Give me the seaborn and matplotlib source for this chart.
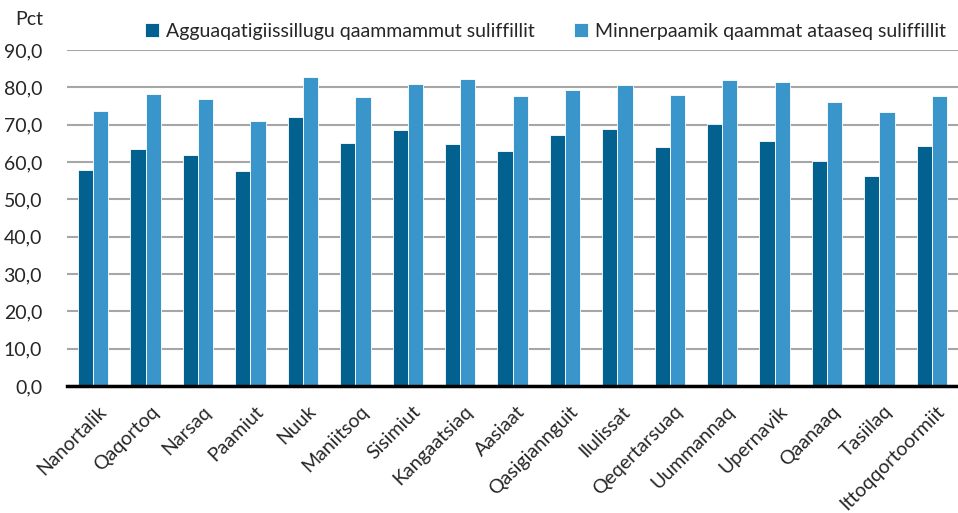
"""
Grouped bar chart: share of employees per town, two series.
"""

import numpy as np
import pandas as pd
import matplotlib
matplotlib.use('Agg')
import matplotlib.pyplot as plt
import seaborn as sns
from matplotlib.ticker import FuncFormatter, MultipleLocator
from matplotlib.transforms import ScaledTranslation

towns = [
    'Nanortalik', 'Qaqortoq', 'Narsaq', 'Paamiut', 'Nuuk', 'Maniitsoq',
    'Sisimiut', 'Kangaatsiaq', 'Aasiaat', 'Qasigiannguit', 'Ilulissat',
    'Qeqertarsuaq', 'Uummannaq', 'Upernavik', 'Qaanaaq', 'Tasiilaq',
    'Ittoqqortoormiit',
]
series_names = [
    'Agguaqatigiissillugu qaammammut suliffillit',
    'Minnerpaamik qaammat ataaseq suliffillit',
]
avg_monthly = [57.8, 63.4, 61.9, 57.6, 72.0, 65.1, 68.6, 64.7, 63.0,
               67.2, 68.9, 63.9, 70.2, 65.5, 60.3, 56.3, 64.2]
at_least_one = [73.6, 78.3, 76.8, 70.9, 82.8, 77.4, 80.9, 82.2, 77.6,
                79.3, 80.7, 78.0, 81.9, 81.4, 76.0, 73.4, 77.6]
colors = ['#02618F', '#3A96CA']

df = pd.DataFrame({
    'town': towns * 2,
    'series': [series_names[0]] * len(towns) + [series_names[1]] * len(towns),
    'value': avg_monthly + at_least_one,
})

sns.set_style('white')
plt.rcParams['font.family'] = ['Lato', 'DejaVu Sans']
FS = 14

fig = plt.figure(figsize=(9.58, 5.13), dpi=100)
ax = fig.add_axes([0.070, 0.2476, 0.930, 0.655])

sns.barplot(
    data=df, x='town', y='value', hue='series',
    palette=colors, saturation=1, width=0.58, ax=ax,
    edgecolor='white', linewidth=0.6, legend=True,
)

ax.set_ylim(0, 90)
ax.set_xlim(-0.5, len(towns) - 0.5)
ax.yaxis.set_major_locator(MultipleLocator(10))
ax.yaxis.set_major_formatter(FuncFormatter(lambda v, _: f"{v:.1f}".replace('.', ',')))
ax.grid(axis='y', color='#A6A6A6', linewidth=1.5)
ax.set_axisbelow(True)
for side in ['top', 'right', 'left']:
    ax.spines[side].set_visible(False)
ax.spines['bottom'].set_color('black')
ax.spines['bottom'].set_linewidth(2.5)
ax.spines['bottom'].set_zorder(5)

ax.set_xlabel('')
ax.set_ylabel('')
ax.tick_params(axis='y', length=0, labelsize=FS, pad=18)
ax.tick_params(axis='x', length=0, labelsize=FS, pad=12)
shift = ScaledTranslation(4 / 100, 0, fig.dpi_scale_trans)
for lbl in ax.get_xticklabels():
    lbl.set_rotation(45)
    lbl.set_ha('right')
    lbl.set_rotation_mode('anchor')
    lbl.set_transform(lbl.get_transform() + shift)

handles, labels = ax.get_legend_handles_labels()
ax.get_legend().remove()
fig.legend(
    handles, labels, loc='upper left', bbox_to_anchor=(0.133, 0.99),
    ncol=2, frameon=False, fontsize=FS, handlelength=0.7, handleheight=0.7,
    handletextpad=0.4, columnspacing=2.0,
)

fig.text(0.045, 0.962, 'Pct', ha='right', va='center', fontsize=FS)

fig.savefig('out.png', dpi=100)
plt.close(fig)
